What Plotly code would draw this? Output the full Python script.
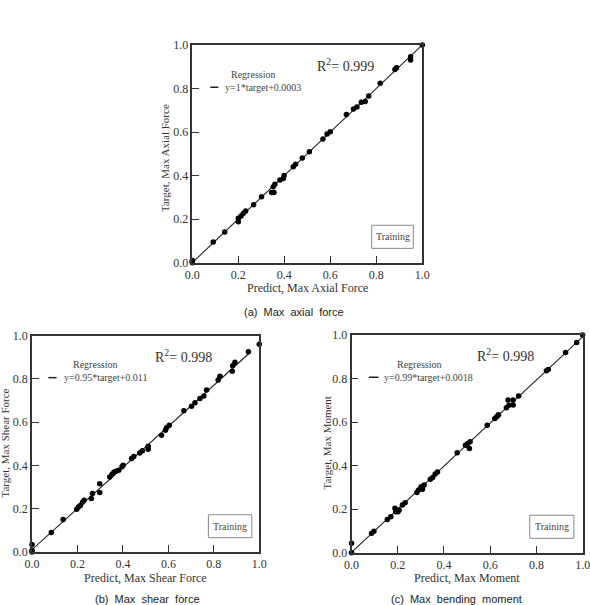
import plotly.graph_objects as go

# ---------------- data ----------------
axial_pred = [0.0, 0.0, 0.0, 0.091, 0.141, 0.2, 0.2, 0.212, 0.222, 0.232, 0.267, 0.301,
              0.345, 0.355, 0.352, 0.359, 0.381, 0.396, 0.399, 0.439, 0.449, 0.478, 0.509,
              0.568, 0.586, 0.6, 0.67, 0.701, 0.716, 0.735, 0.752, 0.767, 0.817, 0.881,
              0.888, 0.949, 0.949, 1.0]
axial_target = [0.0, 0.005, 0.01, 0.095, 0.141, 0.188, 0.204, 0.214, 0.227, 0.237, 0.266, 0.303,
                0.323, 0.323, 0.349, 0.36, 0.38, 0.387, 0.401, 0.441, 0.452, 0.481, 0.51,
                0.568, 0.591, 0.602, 0.681, 0.706, 0.715, 0.737, 0.741, 0.766, 0.824, 0.888,
                0.896, 0.946, 0.931, 1.0]

shear_pred = [0.0, 0.0, 0.0, 0.085, 0.137, 0.197, 0.204, 0.213, 0.222, 0.229, 0.261, 0.266,
              0.298, 0.298, 0.342, 0.352, 0.361, 0.372, 0.382, 0.396, 0.401, 0.438, 0.448,
              0.474, 0.486, 0.511, 0.511, 0.57, 0.587, 0.592, 0.604, 0.668, 0.702, 0.717,
              0.739, 0.756, 0.768, 0.819, 0.827, 0.881, 0.883, 0.893, 0.952, 1.0]
shear_target = [0.0, 0.008, 0.035, 0.09, 0.15, 0.198, 0.208, 0.215, 0.23, 0.239, 0.247, 0.27,
                0.275, 0.316, 0.347, 0.36, 0.37, 0.375, 0.378, 0.394, 0.401, 0.432, 0.441,
                0.458, 0.468, 0.489, 0.475, 0.54, 0.563, 0.575, 0.586, 0.653, 0.674, 0.69,
                0.71, 0.721, 0.749, 0.795, 0.812, 0.836, 0.861, 0.877, 0.926, 0.96]

moment_pred = [0.0, 0.0, 0.087, 0.097, 0.155, 0.17, 0.188, 0.191, 0.201, 0.206, 0.22, 0.232,
               0.283, 0.29, 0.301, 0.307, 0.314, 0.341, 0.351, 0.362, 0.372, 0.457, 0.493,
               0.503, 0.51, 0.513, 0.587, 0.62, 0.629, 0.636, 0.67, 0.681, 0.677, 0.699,
               0.699, 0.723, 0.843, 0.851, 0.926, 0.974, 1.0]
moment_target = [0.0, 0.043, 0.089, 0.098, 0.153, 0.165, 0.204, 0.188, 0.188, 0.196, 0.219, 0.23,
                 0.276, 0.288, 0.303, 0.291, 0.311, 0.337, 0.346, 0.361, 0.371, 0.459, 0.493,
                 0.502, 0.479, 0.51, 0.585, 0.617, 0.626, 0.634, 0.666, 0.677, 0.701, 0.678,
                 0.701, 0.72, 0.836, 0.842, 0.92, 0.965, 1.0]

# regression: slope, intercept, x-extent of fitted line
reg_slope = [1.0, 0.95, 0.99]
reg_intercept = [0.0003, 0.011, 0.0018]
reg_xmax = [1.0, 0.952, 1.0]
reg_labels = ["y=1*target+0.0003", "y=0.95*target+0.011", "y=0.99*target+0.0018"]
r2_labels = ["0.999", "0.998", "0.998"]
x_titles = ["Predict, Max Axial Force", "Predict, Max Shear Force", "Predict, Max Moment"]
y_titles = ["Target, Max Axial Force", "Target, Max Shear Force", "Target, Max Moment"]
captions = ["(a)\u00a0\u00a0Max\u00a0\u00a0axial\u00a0\u00a0force",
            "(b)\u00a0\u00a0Max\u00a0\u00a0shear\u00a0\u00a0force",
            "(c)\u00a0\u00a0Max\u00a0\u00a0bending\u00a0\u00a0moment"]
tick_vals = [0.0, 0.2, 0.4, 0.6, 0.8, 1.0]
tick_text = ["0.0", "0.2", "0.4", "0.6", "0.8", "1.0"]

# ---------------- layout ----------------
W, H = 590, 605
x_domains = [[192.3 / W, 422.3 / W], [32.0 / W, 259.3 / W], [351.5 / W, 582.7 / W]]
y_domains = [[1 - 262.7 / H, 1 - 45 / H], [1 - 552.0 / H, 1 - 335.7 / H], [1 - 552.7 / H, 1 - 335 / H]]
caption_pos = [(294, 312), (147.5, 599), (456.7, 599)]
xtitle_pos = [(307, 288), (145.5, 578), (467, 578)]
ytitle_pos = [(165, 158), (4.5, 443), (326.5, 443)]

SERIF = "Liberation Serif, Times New Roman, serif"
SANS = "Liberation Sans, Arial, sans-serif"
TXT = "#333333"

datasets = [(axial_pred, axial_target), (shear_pred, shear_target), (moment_pred, moment_target)]

fig = go.Figure()
layout = dict(width=W, height=H, margin=dict(l=0, r=0, t=0, b=0, autoexpand=False),
              paper_bgcolor="white", plot_bgcolor="white", showlegend=False,
              font=dict(family=SERIF, color=TXT))
annotations = []
shapes = []


def px(x, y):
    return x / W, 1 - y / H


for i, (xs, ys) in enumerate(datasets):
    sfx = "" if i == 0 else str(i + 1)
    xa, ya = "x" + sfx, "y" + sfx
    # regression line
    lx = [0.0, reg_xmax[i]]
    ly = [reg_slope[i] * v + reg_intercept[i] for v in lx]
    fig.add_trace(go.Scatter(x=lx, y=ly, mode="lines", line=dict(color="#222222", width=1.1),
                             xaxis=xa, yaxis=ya, hoverinfo="skip"))
    fig.add_trace(go.Scatter(x=xs, y=ys, mode="markers", cliponaxis=False,
                             marker=dict(color="black", size=5.5),
                             xaxis=xa, yaxis=ya))
    axis_common = dict(range=[0, 1], showgrid=False, zeroline=False, showline=True,
                       linecolor=TXT, linewidth=1.5, mirror=True, automargin=False,
                       ticks="inside", ticklen=7, tickwidth=1.2, tickcolor=TXT,
                       tickvals=tick_vals, ticktext=tick_text, ticklabeloverflow="allow",
                       tickfont=dict(family=SERIF, size=12, color=TXT))
    layout["xaxis" + sfx] = dict(axis_common, domain=x_domains[i], anchor=ya)
    layout["yaxis" + sfx] = dict(axis_common, domain=y_domains[i], anchor=xa)
    xr = xa + " domain"
    yr = ya + " domain"
    small = dict(family=SERIF, size=10, color="#444444")
    # Regression legend
    annotations.append(dict(x=[0.263, 0.276, 0.29][i], y=0.866, xref=xr, yref=yr,
                            xanchor="center", yanchor="middle",
                            text="Regression", showarrow=False, font=small))
    annotations.append(dict(x=[0.135, 0.13, 0.13][i], y=0.806, xref=xr, yref=yr,
                            xanchor="left", yanchor="middle",
                            text=reg_labels[i], showarrow=False, font=small))
    shapes.append(dict(type="line", xref=xr, yref=yr, x0=[0.078, 0.072, 0.075][i],
                       x1=[0.113, 0.108, 0.117][i], y0=0.806, y1=0.806,
                       line=dict(color="#222222", width=1.5)))
    # R^2
    annotations.append(dict(x=0.667, y=0.906, xref=xr, yref=yr, xanchor="center", yanchor="middle",
                            text="R<sup>2</sup>= " + r2_labels[i], showarrow=False,
                            font=dict(family=SERIF, size=14, color=TXT)))
    # Training box
    bx0, bx1 = [(0.78, 0.961), (0.776, 0.967), (0.771, 0.962)][i]
    shapes.append(dict(type="rect", xref=xr, yref=yr, x0=bx0, x1=bx1, y0=0.066, y1=0.172,
                       line=dict(color="#888888", width=1)))
    annotations.append(dict(x=(bx0 + bx1) / 2, y=0.119, xref=xr, yref=yr, text="Training",
                            xanchor="center", yanchor="middle", showarrow=False, font=small))
    # axis titles
    tx, ty = px(*xtitle_pos[i])
    annotations.append(dict(x=tx, y=ty, xref="paper", yref="paper", text=x_titles[i],
                            xanchor="center", yanchor="middle", showarrow=False,
                            font=dict(family=SERIF, size=12, color=TXT)))
    tx, ty = px(*ytitle_pos[i])
    annotations.append(dict(x=tx, y=ty, xref="paper", yref="paper", text=y_titles[i],
                            xanchor="center", yanchor="middle", showarrow=False, textangle=-90,
                            font=dict(family=SERIF, size=11, color=TXT)))
    # caption
    cx, cy = px(*caption_pos[i])
    annotations.append(dict(x=cx, y=cy, xref="paper", yref="paper", text=captions[i],
                            xanchor="center", yanchor="middle",
                            showarrow=False, font=dict(family=SANS, size=11, color="#222222")))

layout["annotations"] = annotations
layout["shapes"] = shapes
fig.update_layout(**layout)
fig.write_html("out.html")
